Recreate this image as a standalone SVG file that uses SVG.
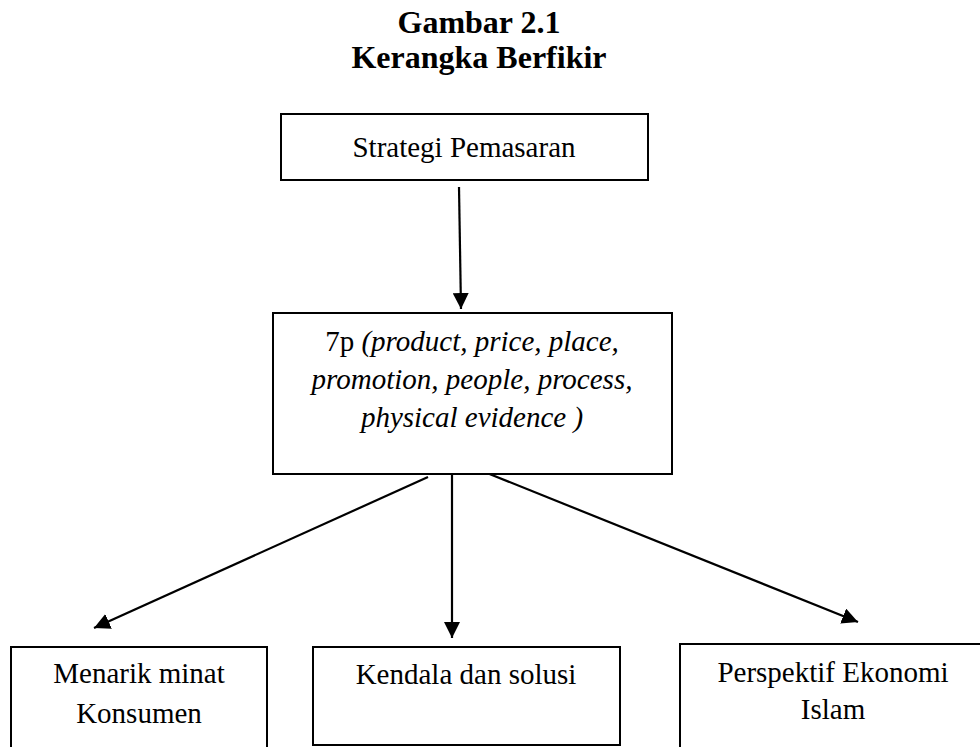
<svg xmlns="http://www.w3.org/2000/svg" width="980" height="747" viewBox="0 0 980 747">
<defs>
<style>
.box{fill:#fff;stroke:#000;stroke-width:2}
.t{font-family:"Liberation Serif","Times New Roman",serif;font-size:29px;fill:#000;text-anchor:middle}
.title{font-family:"Liberation Serif","Times New Roman",serif;font-size:32px;font-weight:bold;fill:#000;text-anchor:middle}
.i{font-style:italic}
.conn{stroke:#000;stroke-width:2.2;fill:none;marker-end:url(#ah)}
</style>
<marker id="ah" markerUnits="userSpaceOnUse" markerWidth="16" markerHeight="16" refX="15" refY="7.5" orient="auto" viewBox="0 0 15 15">
<path d="M0,0 L15,7.5 L0,15 Z" fill="#000"/>
</marker>
</defs>
<rect width="980" height="747" fill="#fff"/>
<g id="title">
<text class="title" x="479" y="33">Gambar 2.1</text>
<text class="title" x="479" y="68">Kerangka Berfikir</text>
</g>
<g id="connectors">
<line class="conn" x1="459" y1="187" x2="461" y2="309"/>
<line class="conn" x1="428" y1="477" x2="94" y2="628"/>
<line class="conn" x1="452" y1="472" x2="452" y2="638"/>
<line class="conn" x1="487" y1="473" x2="858" y2="622"/>
</g>
<g id="node-strategi">
<rect class="box" x="281" y="114" width="367" height="66"/>
<text class="t" x="464" y="157">Strategi Pemasaran</text>
</g>
<g id="node-7p">
<rect class="box" x="273" y="313" width="399" height="161"/>
<text class="t" x="472" y="351">7p <tspan class="i">(product, price, place,</tspan></text>
<text class="t i" x="472" y="389">promotion, people, process,</text>
<text class="t i" x="472" y="427">physical evidence )</text>
</g>
<g id="node-menarik">
<rect class="box" x="11" y="647" width="256" height="110"/>
<text class="t" x="139" y="683">Menarik minat</text>
<text class="t" x="139" y="723">Konsumen</text>
</g>
<g id="node-kendala">
<rect class="box" x="313" y="647" width="307" height="98"/>
<text class="t" x="466" y="684">Kendala dan solusi</text>
</g>
<g id="node-perspektif">
<rect class="box" x="680" y="644" width="310" height="113"/>
<text class="t" x="833" y="682">Perspektif Ekonomi</text>
<text class="t" x="833" y="719">Islam</text>
</g>
</svg>
